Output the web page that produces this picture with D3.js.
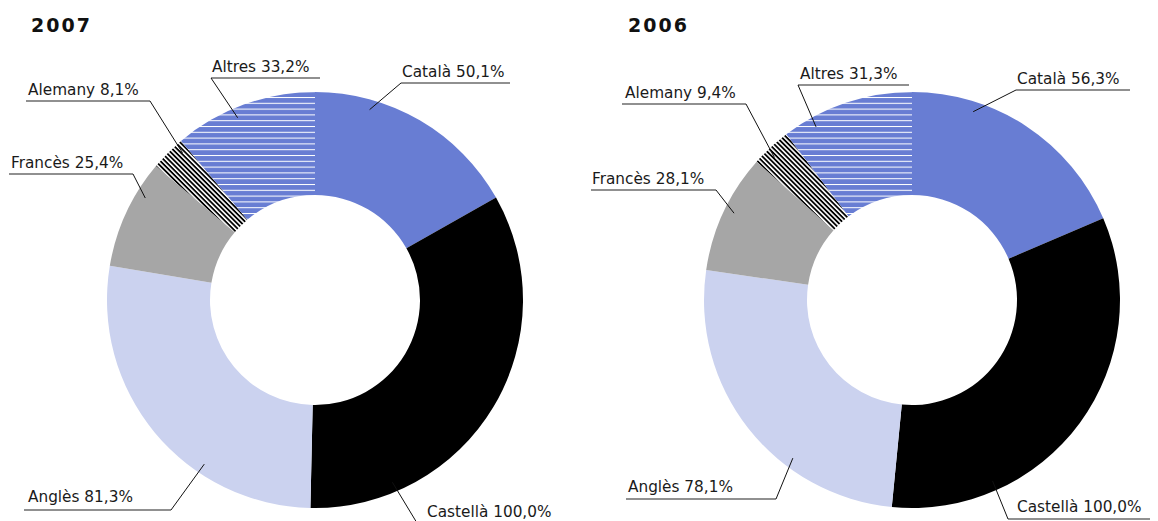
<!DOCTYPE html>
<html>
<head>
<meta charset="utf-8">
<script src="https://cdn.jsdelivr.net/npm/d3@7"></script>
<style>
  body { margin: 0; background: #fff; }
  svg { display: block; }
  .lbl { font-family: "DejaVu Sans", Verdana, sans-serif; font-size: 15.3px; fill: #1a1a1a; }
  .ttl { font-family: "DejaVu Sans", Verdana, sans-serif; font-size: 19px; font-weight: bold; letter-spacing: 2px; fill: #111; }
</style>
</head>
<body>
<svg width="1158" height="521"></svg>
<script>
// data
var languages = ["Català", "Castellà", "Anglès", "Francès", "Alemany", "Altres"];
var years = ["2007", "2006"];
var values2007 = [50.1, 100.0, 81.3, 25.4, 8.1, 33.2];
var values2006 = [56.3, 100.0, 78.1, 28.1, 9.4, 31.3];

var svg = d3.select("svg"),
    width = +svg.attr("width"),
    height = +svg.attr("height");

var outerR = 208, innerR = 105;
var centers = [[315, 300], [912, 300]];
var titlePos = [[31, 32], [628, 32]];

// label layout, relative to the donut centre:
// text x, baseline, underline y, underline x1, x2, which end the leader leaves from, leader angle (deg)
var labelLayout = [
  [
    {tx: 87,   ty: -223, uy: -217, ux1: 86,   ux2: 195, side: "start", ang: 16},
    {tx: 112,  ty: 217,  uy: 223,  ux1: 102,  ux2: 245, side: "start", ang: 157},
    {tx: -287, ty: 202,  uy: 210,  ux1: -291, ux2: -144, side: "end", ang: 214},
    {tx: -304, ty: -132, uy: -126, ux1: -306, ux2: -182, side: "end", ang: 301},
    {tx: -287, ty: -205, uy: -199, ux1: -289, ux2: -165, side: "end", ang: 318},
    {tx: -103, ty: -228, uy: -222, ux1: -104, ux2: 5,    side: "start", ang: 337}
  ],
  [
    {tx: 105,  ty: -216, uy: -210, ux1: 104,  ux2: 218, side: "start", ang: 18},
    {tx: 105,  ty: 212,  uy: 219,  ux1: 96,   ux2: 238, side: "start", ang: 156},
    {tx: -284, ty: 192,  uy: 199,  ux1: -286, ux2: -136, side: "end", ang: 217},
    {tx: -320, ty: -116, uy: -110, ux1: -321, ux2: -196, side: "end", ang: 296},
    {tx: -287, ty: -202, uy: -196, ux1: -290, ux2: -166, side: "end", ang: 316},
    {tx: -112, ty: -221, uy: -215, ux1: -114, ux2: -3,   side: "start", ang: 331}
  ]
];

var blue = "#687dd3";
var fills = [blue, "#000000", "#cbd2ef", "#a6a6a6", "url(#hatchDiag)", "url(#hatchHoriz)"];

var defs = svg.append("defs");

// Altres: blue with thin white horizontal lines
var ph = defs.append("pattern")
    .attr("id", "hatchHoriz")
    .attr("patternUnits", "userSpaceOnUse")
    .attr("width", 10).attr("height", 5.8);
ph.append("rect").attr("width", 10).attr("height", 5.8).attr("fill", blue);
ph.append("rect").attr("y", 0).attr("width", 10).attr("height", 1).attr("fill", "#fff");

// Alemany: black diagonal stripes on white
var pd = defs.append("pattern")
    .attr("id", "hatchDiag")
    .attr("patternUnits", "userSpaceOnUse")
    .attr("width", 10).attr("height", 3.4)
    .attr("patternTransform", "rotate(45)");
pd.append("rect").attr("width", 10).attr("height", 3.4).attr("fill", "#fff");
pd.append("rect").attr("y", 0).attr("width", 10).attr("height", 1.8).attr("fill", "#000");

var pie = d3.pie().sort(null).value(function(d) { return d; });
var arc = d3.arc().innerRadius(innerR).outerRadius(outerR);
var fmt = function(v) { return d3.format(".1f")(v).replace(".", ","); };

[values2007, values2006].forEach(function(vals, i) {
    svg.append("text")
        .attr("class", "ttl")
        .attr("x", titlePos[i][0])
        .attr("y", titlePos[i][1])
        .text(years[i]);

    var g = svg.append("g")
        .attr("transform", "translate(" + centers[i][0] + "," + centers[i][1] + ")");

    var arcs = pie(vals);

    g.selectAll("path")
        .data(arcs)
        .enter().append("path")
        .attr("d", arc)
        .attr("fill", function(d, j) { return fills[j]; });

    var lay = labelLayout[i];

    // leaders + underlines
    arcs.forEach(function(d, j) {
        var L = lay[j];
        var p = d3.pointRadial(L.ang * Math.PI / 180, outerR - 10);
        var sx = L.side == "start" ? L.ux1 : L.ux2;
        g.append("line")
            .attr("x1", L.ux1).attr("y1", L.uy)
            .attr("x2", L.ux2).attr("y2", L.uy)
            .attr("stroke", "#222").attr("stroke-width", 1.2);
        g.append("line")
            .attr("x1", sx).attr("y1", L.uy)
            .attr("x2", p[0]).attr("y2", p[1])
            .attr("stroke", "#111").attr("stroke-width", 1);
        g.append("text")
            .attr("class", "lbl")
            .attr("x", L.tx)
            .attr("y", L.ty)
            .text(languages[j] + " " + fmt(d.data) + "%");
    });
});
</script>
</body>
</html>
